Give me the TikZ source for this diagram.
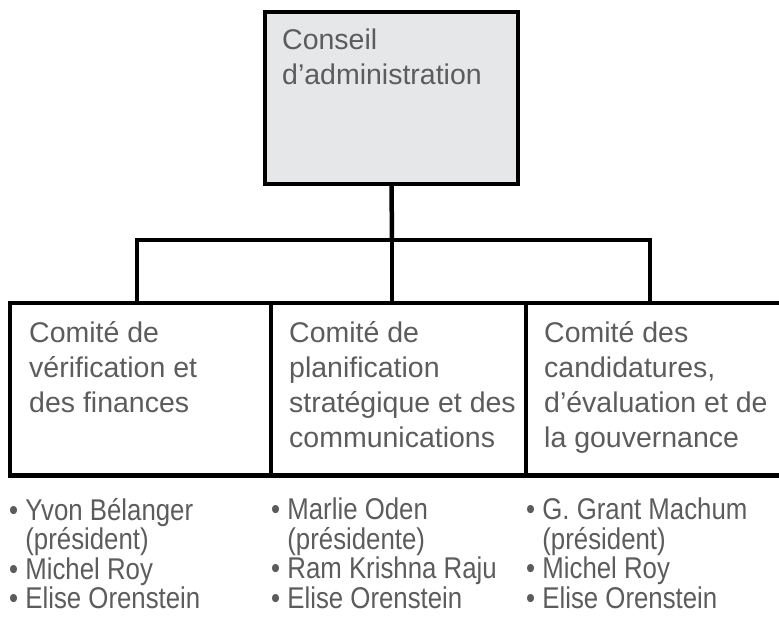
\documentclass[tikz,border=0pt]{standalone}
\usepackage{fontspec}
\setmainfont{Liberation Sans}
\newfontfamily\boxfont{Liberation Sans}
\newfontfamily\listfont[FakeStretch=0.86]{Liberation Sans}
\usetikzlibrary{positioning}
\definecolor{BoardGrey}{HTML}{E6E7E9}
\definecolor{TextGrey}{HTML}{5C5C5C}
\newcommand{\hangin}{\phantom{• }}

\begin{document}
\begin{tikzpicture}[
  x=1pt, y=-1pt,
  board/.style={draw=black, fill=BoardGrey, line width=4.5pt, anchor=north west, outer sep=0pt, inner sep=0pt, minimum width=253pt, minimum height=172pt},
  unit/.style={draw=black, line width=4.5pt, anchor=north west, outer sep=0pt, inner sep=0pt, minimum height=172.5pt},
  boxtext/.style={anchor=north west, inner sep=0pt, align=left, text=TextGrey, font=\boxfont\fontsize{28.5pt}{35pt}\selectfont, execute at begin node={\rule{0pt}{24pt}}},
  memberlist/.style={anchor=north west, inner sep=0pt, align=left, text=TextGrey, font=\listfont\fontsize{30pt}{29.5pt}\selectfont, execute at begin node={\rule{0pt}{24pt}}},
  link/.style={line width=4.5pt}
]
\clip (0,0) rectangle (779,618);

% boxes
\node[board] (board) at (265,12) {};
\node[unit, minimum width=261pt] (c1) at (10,303) {};
\node[unit, minimum width=255pt] (c2) at (271,303) {};
\node[unit, minimum width=264pt] (c3) at (526,303) {};

% connectors
\coordinate (bus) at (392,240);
\coordinate (busL) at (137,240);
\coordinate (busR) at (650,240);
\draw[link] (board.south) -- (bus);
\draw[link] (busL |- c1.north) -- (busL) -- (busR) -- (busR |- c3.north);
\draw[link] (bus) -- (bus |- c2.north);

% names
\node[boxtext] (boardname) at (282,28.7) {Conseil\\d’administration};
\node[boxtext] (c1name) at (29,321) {Comité de\\vérification et\\des finances};
\node[boxtext] (c2name) at (289,321) {Comité de\\planification\\stratégique et des\\communications};
\node[boxtext] (c3name) at (544,321) {Comité des\\candidatures,\\d’évaluation et de\\la gouvernance};

% members
\node[memberlist] (c1members) at (9,498) {• Yvon Bélanger\\\hangin(président)\\• Michel Roy\\• Elise Orenstein};
\node[memberlist] (c2members) at (271,498) {• Marlie Oden\\\hangin(présidente)\\• Ram Krishna Raju\\• Elise Orenstein};
\node[memberlist] (c3members) at (526,498) {• G. Grant Machum\\\hangin(président)\\• Michel Roy\\• Elise Orenstein};
\end{tikzpicture}
\end{document}
